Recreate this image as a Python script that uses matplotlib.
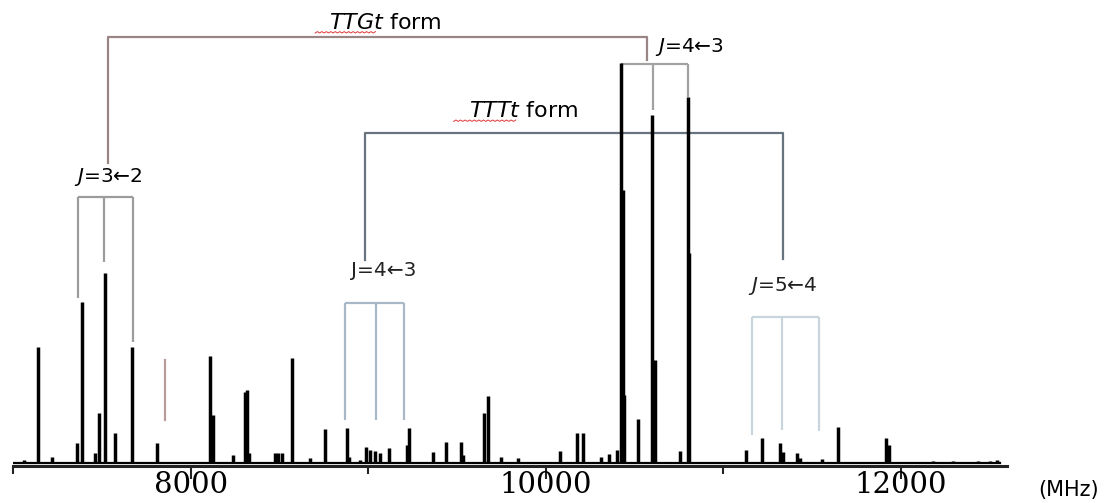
import matplotlib
matplotlib.use('Agg')
import matplotlib.pyplot as plt
import numpy as np

# ---------------- data (frequencies in MHz, relative intensities) ----------------
freqs = [7060, 7139, 7217, 7358, 7386, 7460, 7482, 7516, 7572, 7668, 7809,
         8108, 8124, 8237, 8303, 8316, 8330, 8474, 8491, 8513, 8570, 8671,
         8755, 8879, 8891, 8953, 8986, 9009, 9037, 9065, 9116, 9217, 9229,
         9364, 9437, 9522, 9535, 9651, 9674, 9747, 9843, 10079, 10175, 10209,
         10310, 10355, 10401, 10423, 10434, 10440, 10519, 10598, 10615, 10755,
         10801, 10806, 11127, 11217, 11319, 11336, 11415, 11431, 11555, 11646,
         11696, 11798, 11916, 11933, 12181, 12294, 12434, 12502, 12541]
intens = [0.75, 29, 1.5, 5, 40.25, 2.5, 12.5, 47.5, 7.5, 29, 5,
          26.75, 12, 2, 17.75, 18.25, 2.5, 2.5, 2.5, 2.5, 26.25, 1.25,
          8.5, 8.75, 1.5, 0.75, 4, 3.25, 3, 2.5, 3.75, 4.5, 8.75,
          2.75, 5.25, 5.25, 2, 12.5, 16.75, 1.5, 1.25, 3, 7.5, 7.5,
          1.5, 2.25, 3.25, 100, 68.25, 17, 11, 87, 25.75, 3,
          91.5, 52.5, 3.25, 6.25, 5, 2.75, 2.5, 1.25, 1, 9,
          0.25, 0.25, 6.25, 4.5, 0.5, 0.5, 0.5, 0.5, 0.75]

major_ticks = [8000, 10000, 12000]
minor_ticks = [7000, 9000, 11000]
tick_labels = ['8000', '10000', '12000']
x_range = [7000, 12600]
baseline_end = 12558

# assignment brackets: line positions, bracket top, lower ends
ttg_j32_lines = [7364, 7510, 7674]
ttg_j32_top = 66.5
ttg_j32_bottom = [41.25, 50.25, 30.25]

ttg_j43_lines = [10423, 10603, 10801]
ttg_j43_top = 99.75
ttg_j43_bottom = [99.75, 88.25, 91.5]

ttt_j43_lines = [8868, 9043, 9201]
ttt_j43_top = 40
ttt_j43_bottom = [10.75, 10.75, 10.75]

ttt_j54_lines = [11161, 11330, 11539]
ttt_j54_top = 36.5
ttt_j54_bottom = [7, 8.25, 8]

# form connectors (x positions, heights)
ttg_conn_x = [7533, 10570]
ttg_conn_y = [75, 106.5, 100.75]
ttt_conn_x = [8981, 11336]
ttt_conn_y = [50.75, 82.5, 51]

marker_x = 7854
marker_y = [10.75, 25.75]

# ---------------- figure ----------------
plt.rcParams['font.family'] = ['DejaVu Sans']
plt.rcParams['mathtext.fontset'] = 'dejavusans'

fig = plt.figure(figsize=(11.18, 5.03), dpi=100)
ax = fig.add_axes([13.4 / 1118, 37 / 503, 994 / 1118, 466 / 503])
ax.set_xlim(*x_range)
ax.set_ylim(-0.75, 115.75)

for s in ['top', 'left', 'right']:
    ax.spines[s].set_visible(False)
ax.spines['bottom'].set_linewidth(2.2)
ax.spines['bottom'].set_color('#222222')
ax.set_yticks([])

ax.set_xticks(major_ticks)
ax.set_xticklabels(tick_labels, fontfamily='DejaVu Serif', fontsize=21)
ax.set_xticks(minor_ticks, minor=True)
ax.tick_params(axis='x', which='major', direction='out', length=9.5, width=1.5,
               color='#222222', pad=-6)
ax.tick_params(axis='x', which='minor', direction='out', length=5.5, width=1.5,
               color='#222222')

# baseline and spectrum sticks
ax.plot([x_range[0], baseline_end], [0, 0], color='black', lw=1.6, zorder=3)
ax.vlines(freqs, 0, intens, color='black', lw=2.5, zorder=3)


def bracket(lines, top, bottoms, color):
    ax.plot([lines[0], lines[-1]], [top, top], color=color, lw=1.6, zorder=2,
            solid_capstyle='butt')
    for xv, b in zip(lines, bottoms):
        ax.plot([xv, xv], [b, top], color=color, lw=1.6, zorder=2,
                solid_capstyle='butt')


bracket(ttg_j32_lines, ttg_j32_top, ttg_j32_bottom, '#9c9c9c')
bracket(ttg_j43_lines, ttg_j43_top, ttg_j43_bottom, '#a2a2a2')
bracket(ttt_j43_lines, ttt_j43_top, ttt_j43_bottom, '#a9b8c6')
bracket(ttt_j54_lines, ttt_j54_top, ttt_j54_bottom, '#c9d5dd')

ax.plot([ttg_conn_x[0], ttg_conn_x[0], ttg_conn_x[1], ttg_conn_x[1]],
        ttg_conn_y[:2] + ttg_conn_y[1:], color='#9a8585', lw=1.6, zorder=2)
ax.plot([ttt_conn_x[0], ttt_conn_x[0], ttt_conn_x[1], ttt_conn_x[1]],
        ttt_conn_y[:2] + ttt_conn_y[1:], color='#67737f', lw=1.6, zorder=2)
ax.plot([marker_x, marker_x], marker_y, color='#b99c9c', lw=1.6, zorder=2)

# labels
ax.text(9094, 110, r'$TTGt$ form', ha='center', va='center', fontsize=16)
ax.text(9871, 88, r'$TTTt$ form', ha='center', va='center', fontsize=16)
ax.text(7533, 71.5, r'$J$=3←2', ha='center', va='center', fontsize=14.5)
ax.text(10615, 104, r'$J$=4←3', ha='left', va='center', fontsize=14.5)
ax.text(9085, 48.25, 'J=4←3', ha='center', va='center', fontsize=14.5,
        color='#222222')
ax.text(11333, 44.25, r'$J$=5←4', ha='center', va='center', fontsize=14.5,
        color='#222222')

# spell-check squiggles under the italic words
for x0, x1, yb in [(8700, 9040, 107.5), (9480, 9830, 85.4)]:
    xs = np.linspace(x0, x1, 28)
    ys = yb + 0.35 * (np.arange(28) % 2)
    ax.plot(xs, ys, color='#e03a3a', lw=0.7, zorder=2)

fig.text(1069 / 1118, 1 - 490 / 503, '(MHz)', ha='center', va='center',
         fontsize=15)

fig.savefig('out.png', dpi=100)
